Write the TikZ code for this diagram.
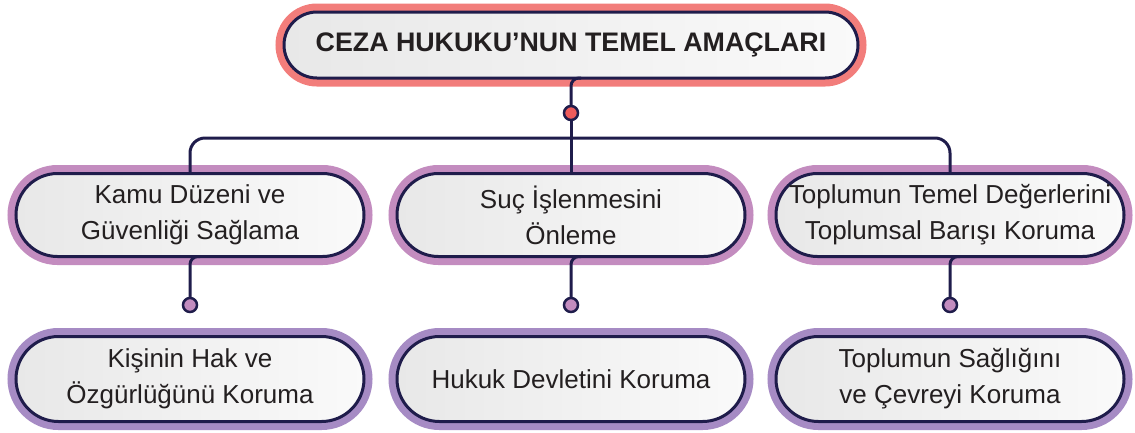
\documentclass[tikz,border=0pt]{standalone}
\usepackage{fontspec}
\setmainfont{Liberation Sans}
\usepackage{xcolor}
\definecolor{navy}{HTML}{1F1C4B}
\definecolor{coral}{HTML}{F27D7B}
\definecolor{orchid}{HTML}{C38CBF}
\definecolor{lavender}{HTML}{A68BC4}
\definecolor{dotred}{HTML}{EE5B5B}
\definecolor{ink}{HTML}{231F20}

\begin{document}
\begin{tikzpicture}[x=1pt, y=-1pt,
    pill/.style={draw=navy, line width=3pt, outer sep=0pt, left color=black!9, right color=black!2, text=ink, align=center, inner sep=0pt, font=\fontsize{26}{36}\selectfont},
    upper/.style={pill, preaction={draw=orchid, line width=17pt}, minimum width=348pt, minimum height=83pt, rounded corners=41.5pt},
    lower/.style={pill, preaction={draw=lavender, line width=17pt}, minimum width=348pt, minimum height=85pt, rounded corners=42.5pt},
    link/.style={draw=navy, line width=3pt},
    dot/.style={circle, draw=navy, line width=2.5pt, minimum size=14pt, inner sep=0pt}]
  \useasboundingbox (0,0) rectangle (1135,432);

  \node[pill, preaction={draw=coral, line width=17pt}, minimum width=574pt, minimum height=66pt, rounded corners=33pt, font=\fontsize{26.8}{30}\selectfont\bfseries] (title) at (571,45) {CEZA HUKUKU’NUN TEMEL AMAÇLARI};

  \node[upper] (kamu) at (190,215) {Kamu Düzeni ve\\Güvenliği Sağlama};
  \node[upper] (suc) at (571,215) {Suç İşlenmesini\\Önleme};
  \node[upper] (toplum) at (950,215) {Toplumun Temel Değerlerini\\Toplumsal Barışı Koruma};

  \node[lower] (kisi) at (190,379) {Kişinin Hak ve\\Özgürlüğünü Koruma};
  \node[lower] (hukuk) at (571,379) {Hukuk Devletini Koruma};
  \node[lower] (saglik) at (950,379) {Toplumun Sağlığını\\ve Çevreyi Koruma};

  \coordinate (bar) at (571,138);
  \draw[link, rounded corners=15pt] (kamu.north) |- (bar) -| (toplum.north);

  \node[dot, fill=dotred] (d0) at (571,113) {};
  \node[dot, fill=orchid] (d1) at (190,305) {};
  \node[dot, fill=orchid] (d2) at (571,305) {};
  \node[dot, fill=orchid] (d3) at (950,305) {};

  \draw[link, rounded corners=8pt] ([xshift=10pt]title.south) -| (d0.north);
  \draw[link] (d0.south) -- (suc.north);
  \draw[link, rounded corners=8pt] ([xshift=10pt]kamu.south) -| (d1.north);
  \draw[link, rounded corners=8pt] ([xshift=10pt]suc.south) -| (d2.north);
  \draw[link, rounded corners=8pt] ([xshift=10pt]toplum.south) -| (d3.north);
\end{tikzpicture}
\end{document}
